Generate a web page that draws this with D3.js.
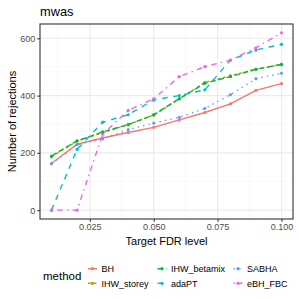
<!DOCTYPE html>
<html><head><meta charset="utf-8">
<script src="https://cdn.jsdelivr.net/npm/d3@7"></script>
<style>body{margin:0;background:#fff}svg{display:block;font-family:"Liberation Sans",Arial,sans-serif}</style>
</head><body><svg id="c" width="299" height="299"></svg>
<script>
const fdr = [0.01,0.02,0.03,0.04,0.05,0.06,0.07,0.08,0.09,0.10];
const methods = ["BH","IHW_storey","IHW_betamix","adaPT","SABHA","eBH_FBC"];
const BH          = [163,230,252,271,289,315,341,371,418,442];
const IHW_storey  = [186,241,271,298,332,388,446,469,492,508];
const IHW_betamix = [189,242,273,299,333,389,443,466,492,509];
const adaPT       = [0,212,307,333,385,400,420,524,559,579];
const SABHA       = [162,229,249,281,304,324,355,403,459,478];
const eBH_FBC     = [0,0,265,348,389,466,501,524,567,619];
const colors = ["#F8766D","#B79F00","#00BA38","#00BFC4","#619CFF","#F564E3"];
const dashes = ["none","2.8,2.8","5.6,2.8","5.6,5.6","1.4,4.2","1.4,4.2,5.6,4.2"];
const xTicks = [0.025,0.050,0.075,0.100];
const yTicks = [0,200,400,600];
const seriesVals = [BH,IHW_storey,IHW_betamix,adaPT,SABHA,eBH_FBC];

const svg = d3.select("#c");
const L=40,R=293,T=24,B=219;
const x = d3.scaleLinear().domain([0.01-0.0045,0.10+0.0045]).range([L,R]);
const y = d3.scaleLinear().domain([-30.95,649.95]).range([B,T]);

// grid
const g = svg.append("g");
const xMinor=[0.0125,0.0375,0.0625,0.0875], yMinor=[100,300,500];
xMinor.forEach(v=>g.append("line").attr("x1",x(v)).attr("x2",x(v)).attr("y1",T).attr("y2",B).attr("stroke","#F2F2F2").attr("stroke-width",0.55));
yMinor.forEach(v=>g.append("line").attr("y1",y(v)).attr("y2",y(v)).attr("x1",L).attr("x2",R).attr("stroke","#F2F2F2").attr("stroke-width",0.55));
xTicks.forEach(v=>g.append("line").attr("x1",x(v)).attr("x2",x(v)).attr("y1",T).attr("y2",B).attr("stroke","#EBEBEB").attr("stroke-width",1.1));
yTicks.forEach(v=>g.append("line").attr("y1",y(v)).attr("y2",y(v)).attr("x1",L).attr("x2",R).attr("stroke","#EBEBEB").attr("stroke-width",1.1));

// series
const line = d3.line().x((d,i)=>x(fdr[i])).y(d=>y(d));
methods.forEach((m,k)=>{
  const vals = seriesVals[k];
  svg.append("path").datum(vals).attr("d",line).attr("fill","none")
    .attr("stroke",colors[k]).attr("stroke-width",1.4)
    .attr("stroke-dasharray",dashes[k]);
  svg.selectAll(null).data(vals).enter().append("circle")
    .attr("cx",(d,i)=>x(fdr[i])).attr("cy",d=>y(d)).attr("r",1.6).attr("fill",colors[k]);
});

// border
svg.append("rect").attr("x",L).attr("y",T).attr("width",R-L).attr("height",B-T)
  .attr("fill","none").attr("stroke","#333333").attr("stroke-width",1.1);

// axes
const xa = svg.append("g").attr("transform",`translate(0,${B})`)
  .call(d3.axisBottom(x).tickValues(xTicks).tickFormat(d3.format(".3f")).tickSize(2.7).tickPadding(2));
const ya = svg.append("g").attr("transform",`translate(${L},0)`)
  .call(d3.axisLeft(y).tickValues(yTicks).tickSize(2.7).tickPadding(2));
[xa,ya].forEach(a=>{
  a.select(".domain").remove();
  a.selectAll(".tick line").attr("stroke","#333333").attr("stroke-width",1.1);
  a.selectAll(".tick text").attr("fill","#4D4D4D").attr("font-size",9).attr("font-family","Liberation Sans, Arial, sans-serif");
});

// titles
svg.append("text").attr("x",40).attr("y",15.5).attr("font-size",12.8).attr("fill","#000").text("mwas");
svg.append("text").attr("x",(L+R)/2).attr("y",244.5).attr("text-anchor","middle").attr("font-size",11).text("Target FDR level");
svg.append("text").attr("transform",`translate(16,${(T+B)/2}) rotate(-90)`).attr("text-anchor","middle").attr("font-size",11).text("Number of rejections");

// legend
const lg = svg.append("g");
lg.append("text").attr("x",43).attr("y",280).attr("font-size",11.5).text("method");
const colX=[88,157.5,233.5], rowY=[268.7,283.3];
methods.forEach((m,k)=>{
  const c=Math.floor(k/2), r=k%2;
  const kx=colX[c], ky=rowY[r];
  lg.append("line").attr("x1",kx).attr("x2",kx+9).attr("y1",ky).attr("y2",ky)
    .attr("stroke",colors[k]).attr("stroke-width",1.4).attr("stroke-dasharray",dashes[k]);
  lg.append("circle").attr("cx",kx+4.5).attr("cy",ky).attr("r",1.6).attr("fill",colors[k]);
  lg.append("text").attr("x",kx+13.5).attr("y",ky+3.2).attr("font-size",9).attr("fill","#000").text(m);
});
</script></body></html>
